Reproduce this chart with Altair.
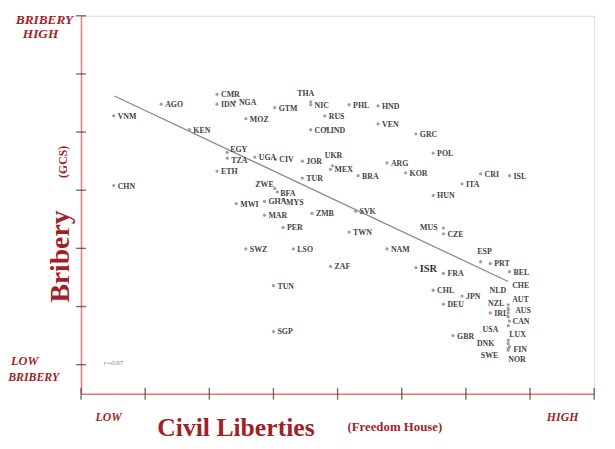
import altair as alt
import pandas as pd

# ---------------- data ----------------
codes = ["VNM", "AGO", "CMR", "IDN", "NGA", "KEN", "EGY", "TZA", "ETH", "UGA",
         "CIV", "CHN", "MOZ", "GTM", "THA", "NIC", "PHL", "HND", "RUS", "COL",
         "IND", "VEN", "GRC", "POL", "JOR", "UKR", "MEX", "TUR", "BRA", "ARG",
         "KOR", "CRI", "ISL", "ITA", "HUN", "MUS", "CZE", "ZWE", "BFA", "MWI",
         "GHA", "MYS", "MAR", "ZMB", "SVK", "PER", "TWN", "SWZ", "LSO", "ZAF",
         "TUN", "SGP", "NAM", "ESP", "PRT", "BEL", "ISR", "FRA", "CHL", "JPN",
         "DEU", "IRL", "GBR", "CHE", "NLD", "AUT", "NZL", "AUS", "CAN", "USA",
         "LUX", "DNK", "FIN", "SWE", "NOR"]
civil = [0.51, 1.25, 2.12, 2.12, 2.40, 1.69, 2.28, 2.28, 2.12, 2.71,
         3.03, 0.51, 2.57, 3.02, 3.58, 3.58, 4.18, 4.63, 3.80, 3.58,
         3.83, 4.63, 5.22, 5.49, 3.45, 3.92, 3.89, 3.45, 4.32, 4.77,
         5.06, 6.23, 6.68, 5.94, 5.49, 5.65, 5.65, 3.02, 3.06, 2.42,
         2.86, 3.15, 2.86, 3.60, 4.28, 3.15, 4.18, 2.57, 3.31, 3.89,
         3.00, 3.00, 4.77, 6.23, 6.38, 6.68, 5.22, 5.65, 5.49, 5.94,
         5.65, 6.38, 5.80, 6.66, 6.66, 6.66, 6.66, 6.66, 6.68, 6.66,
         6.66, 6.66, 6.68, 6.66, 6.66]
bribery = [4.78, 4.98, 5.15, 4.98, 5.02, 4.54, 4.15, 4.05, 3.83, 4.07,
           4.03, 3.58, 4.73, 4.92, 5.02, 4.97, 4.97, 4.95, 4.78, 4.54,
           4.56, 4.64, 4.47, 4.14, 4.00, 3.92, 3.86, 3.71, 3.75, 3.97,
           3.80, 3.78, 3.75, 3.61, 3.41, 2.85, 2.75, 3.53, 3.47, 3.27,
           3.31, 3.34, 3.07, 3.10, 3.14, 2.86, 2.78, 2.49, 2.49, 2.19,
           1.86, 1.07, 2.49, 2.27, 2.24, 2.10, 2.17, 2.07, 1.78, 1.68,
           1.54, 1.39, 1.00, 1.53, 1.47, 1.44, 1.39, 1.32, 1.25, 1.17,
           0.92, 0.86, 0.81, 0.78, 0.75]

fit_x = [0.52, 6.66]
fit_y = [5.12, 1.93]

x_ticks = [0, 1, 2, 3, 4, 5, 6, 7, 8]
y_ticks = [0.5, 1.5, 2.5, 3.5, 4.5, 5.5, 6.5]

# ---------------- layout / style ----------------
SERIF = "Liberation Serif"
RED = "#a31f28"
AXIS_RED = "#f07575"
LABEL_COLOR = "#444444"

# label placement: (align, dx, dy); default is to the right of the dot
nudge = {
    "THA": ("center", -5, -8), "UKR": ("center", 1, -10), "MUS": ("right", -6, 0),
    "ZWE": ("right", -1, -4), "BFA": ("left", 3, 2), "IND": ("left", 4, 2),
    "MYS": ("left", 3, 4), "EGY": ("left", 3, -2), "TZA": ("left", 4, 3),
    "ESP": ("center", 4, -10),
    "CHE": ("left", 4, -19), "NLD": ("right", -2, -17), "AUT": ("left", 4, -10),
    "NZL": ("right", -4, -9), "AUS": ("left", 7, -6), "CAN": ("left", 3, 1),
    "USA": ("right", -10, 4), "LUX": ("left", 1, -5), "DNK": ("right", -14, 0),
    "FIN": ("left", 4, 3), "SWE": ("right", -10, 8), "NOR": ("left", 0, 10),
}
big = ["ISR"]

df = pd.DataFrame({"code": codes, "civil": civil, "bribery": bribery})
fit = pd.DataFrame({"civil": fit_x, "bribery": fit_y})
xt = pd.DataFrame({"civil": x_ticks, "bribery": [0] * len(x_ticks)})
yt = pd.DataFrame({"civil": [0] * len(y_ticks), "bribery": y_ticks})

xs = alt.Scale(domain=[0, 8], nice=False, zero=False)
ys = alt.Scale(domain=[0, 6.5], nice=False, zero=False)
xax = alt.Axis(domain=True, domainColor=AXIS_RED, domainWidth=1.5, ticks=False,
               labels=False, grid=False, title=None)
yax = alt.Axis(domain=True, domainColor=AXIS_RED, domainWidth=1.5, ticks=False,
               labels=False, grid=False, title=None)

X = alt.X("civil:Q", scale=xs, axis=xax)
Y = alt.Y("bribery:Q", scale=ys, axis=yax)

base = alt.Chart(df)

layers = []
layers.append(alt.Chart(fit).mark_line(color="#8a8a8a", strokeWidth=1.3).encode(x=X, y=Y))
layers.append(alt.Chart(xt).mark_tick(orient="vertical", size=12, thickness=1.4,
                                      color="#333333").encode(x=X, y=Y))
layers.append(alt.Chart(yt).mark_tick(orient="horizontal", size=10, thickness=1.4,
                                      color="#333333").encode(x=X, y=Y))
layers.append(base.mark_circle(size=11, color="#a0a0a0", opacity=1).encode(x=X, y=Y))

special = list(nudge.keys()) + big
layers.append(
    base.transform_filter(~alt.FieldOneOfPredicate(field="code", oneOf=special))
    .mark_text(font=SERIF, fontSize=8, fontWeight="bold", color=LABEL_COLOR,
               align="left", baseline="middle", dx=4, dy=1)
    .encode(x=X, y=Y, text="code:N")
)
for c in big:
    layers.append(
        base.transform_filter(alt.datum.code == c)
        .mark_text(font=SERIF, fontSize=10.5, fontWeight="bold", color="#333333",
                   align="left", baseline="middle", dx=4, dy=1)
        .encode(x=X, y=Y, text="code:N")
    )
for c, (al, dx, dy) in nudge.items():
    layers.append(
        base.transform_filter(alt.datum.code == c)
        .mark_text(font=SERIF, fontSize=8, fontWeight="bold", color=LABEL_COLOR,
                   align=al, baseline="middle", dx=dx, dy=dy)
        .encode(x=X, y=Y, text="code:N")
    )


def note(text, x, y, size, angle=0, italic=False, align="center", color=RED, bold=True):
    kw = dict(font=SERIF, fontSize=size, fontWeight="bold" if bold else "normal",
              fontStyle="italic" if italic else "normal", color=color,
              align=align, baseline="middle")
    if angle:
        kw["angle"] = angle
    return alt.Chart(pd.DataFrame({"t": [text]})).mark_text(**kw).encode(
        x=alt.value(x), y=alt.value(y), text="t:N")


layers += [
    note("BRIBERY", -37, 4, 13.5, italic=True),
    note("HIGH", -41, 19, 13.5, italic=True),
    note("LOW", -57, 350, 12.5, italic=True),
    note("BRIBERY", -48, 366, 12, italic=True),
    note("Bribery", -20, 244, 28, angle=270),
    note("(GCS)", -18, 148, 12, angle=270),
    note("LOW", 28, 407, 12, italic=True),
    note("HIGH", 488, 407, 12, italic=True),
    note("Civil Liberties", 157, 418, 26),
    note("(Freedom House)", 318, 417, 13),
    note("r=0.67", 23, 352, 7, italic=True, align="left", color="#777777", bold=False),
]

chart = alt.layer(*layers).properties(
    width=520, height=383, autosize="none",
    padding={"left": 74, "top": 5, "right": 13, "bottom": 45},
).configure_view(stroke=None).configure(background="white")

chart.save("out.html", embed_options={"renderer": "svg", "actions": False})
